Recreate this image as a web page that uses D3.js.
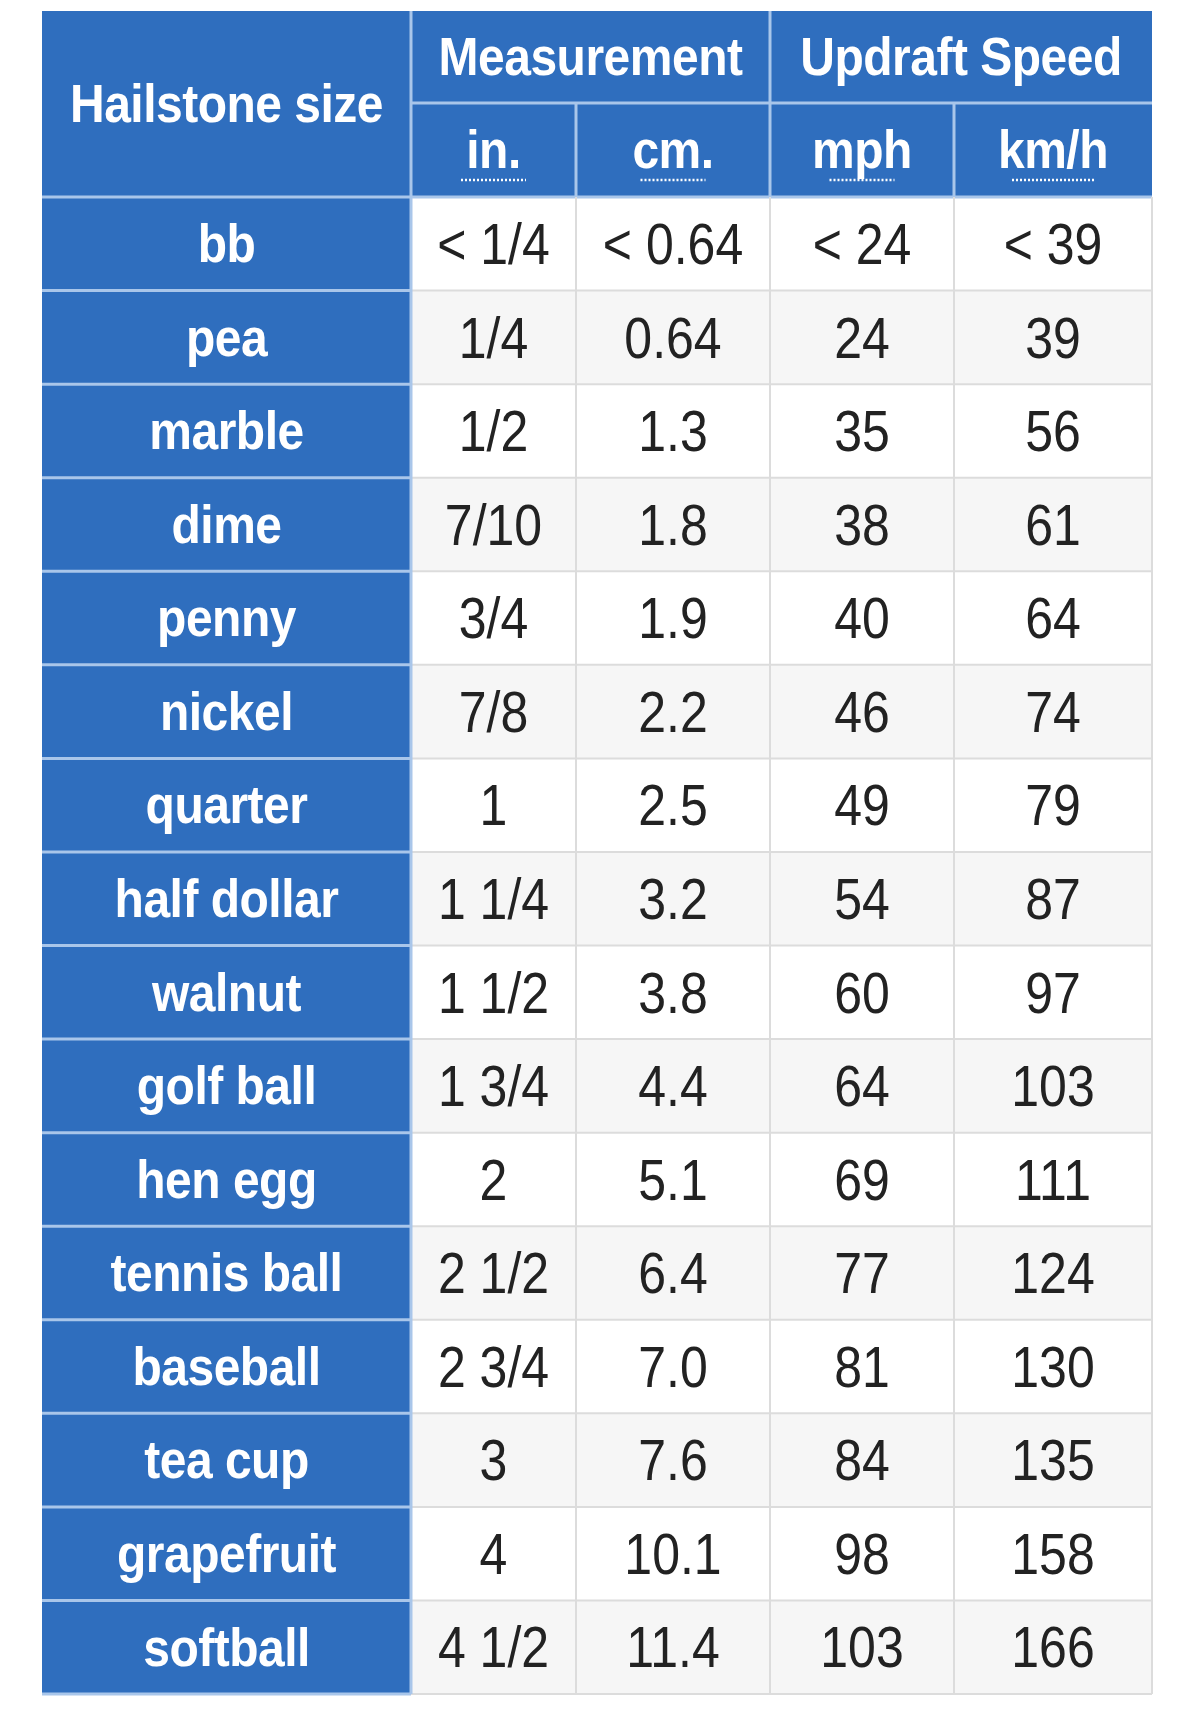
<!DOCTYPE html>
<html>
<head>
<meta charset="UTF-8">
<script src="https://d3js.org/d3.v7.min.js"></script>
<style>body{margin:0;background:#fff}</style>
</head>
<body>
<svg width="1200" height="1736"></svg>
<script>
const sizes = ["bb","pea","marble","dime","penny","nickel","quarter","half dollar","walnut","golf ball","hen egg","tennis ball","baseball","tea cup","grapefruit","softball"];
const inches = ["< 1/4","1/4","1/2","7/10","3/4","7/8","1","1 1/4","1 1/2","1 3/4","2","2 1/2","2 3/4","3","4","4 1/2"];
const cms = ["< 0.64","0.64","1.3","1.8","1.9","2.2","2.5","3.2","3.8","4.4","5.1","6.4","7.0","7.6","10.1","11.4"];
const mph = ["< 24","24","35","38","40","46","49","54","60","64","69","77","81","84","98","103"];
const kmh = ["< 39","39","56","61","64","74","79","87","97","103","111","124","130","135","158","166"];
const groups = ["Measurement","Updraft Speed"];
const units = ["in.","cm.","mph","km/h"];

const svg = d3.select("svg");
const blue = "#2f6ebe", grid = "#dcdcdc";
const font = "'Liberation Sans', Arial, sans-serif";
const colEdges = [42, 411, 576, 770, 954, 1152];
const tableTop = 11, h1 = 103, h2 = 197, tableBottom = 1694;
const cols = [inches, cms, mph, kmh];

const y = d3.scaleBand().domain(d3.range(sizes.length)).range([h2, tableBottom]);

function label(x, yy, t, opt) {
  const g = svg.append("g").attr("transform", `translate(${x},${yy}) scale(1,${opt.sy || 1.1})`);
  g.append("text").attr("text-anchor", "middle").attr("dominant-baseline", "central")
    .attr("font-family", font).attr("font-size", opt.size).attr("font-weight", opt.bold ? "bold" : "normal")
    .attr("letter-spacing", opt.ls || 0).attr("fill", opt.fill).text(t);
  return g;
}

// header background
svg.append("rect").attr("x", colEdges[0]).attr("y", tableTop).attr("width", colEdges[5] - colEdges[0]).attr("height", h2 - tableTop).attr("fill", blue);
label((colEdges[0] + colEdges[1]) / 2, (tableTop + h2) / 2, "Hailstone size", {size: 48, bold: true, fill: "#fff", ls: -0.5});
groups.forEach((g, i) => {
  label((colEdges[1 + 2 * i] + colEdges[3 + 2 * i]) / 2, (tableTop + h1) / 2, g, {size: 48, bold: true, fill: "#fff", ls: -0.5});
});
units.forEach((u, i) => {
  const cx = (colEdges[i + 1] + colEdges[i + 2]) / 2, cy = (h1 + h2) / 2;
  label(cx, cy, u, {size: 48, bold: true, fill: "#fff", ls: -0.5});
  const w = u.length * 17 + 14;
  svg.append("line").attr("x1", cx - w / 2).attr("x2", cx + w / 2).attr("y1", cy + 30).attr("y2", cy + 30)
    .attr("stroke", "#fff").attr("stroke-width", 2.5).attr("stroke-dasharray", "2,2");
});

// rows
sizes.forEach((s, r) => {
  const y0 = y(r), bh = y.bandwidth();
  svg.append("rect").attr("x", colEdges[0]).attr("y", y0).attr("width", colEdges[1] - colEdges[0]).attr("height", bh).attr("fill", blue);
  svg.append("rect").attr("x", colEdges[1]).attr("y", y0).attr("width", colEdges[5] - colEdges[1]).attr("height", bh)
    .attr("fill", r % 2 ? "#f6f6f6" : "#ffffff");
  label((colEdges[0] + colEdges[1]) / 2, y0 + bh / 2, s, {size: 48, bold: true, fill: "#fff", ls: -0.5});
  cols.forEach((c, i) => {
    label((colEdges[i + 1] + colEdges[i + 2]) / 2, y0 + bh / 2, c[r], {size: 50, fill: "#222", sy: 1.15});
  });
});

// grid lines
const lineY = [h2].concat(d3.range(sizes.length).map(r => y(r) + y.bandwidth()));
lineY.forEach((yy, i) => {
  svg.append("line").attr("x1", colEdges[0]).attr("x2", colEdges[1]).attr("y1", yy).attr("y2", yy).attr("stroke", "#a9c6ea").attr("stroke-width", 3);
  svg.append("line").attr("x1", colEdges[1]).attr("x2", colEdges[5]).attr("y1", yy).attr("y2", yy).attr("stroke", i === 0 ? "#a9c6ea" : grid).attr("stroke-width", i === 0 ? 3 : 2);
});
svg.append("line").attr("x1", colEdges[1]).attr("x2", colEdges[5]).attr("y1", h1).attr("y2", h1).attr("stroke", "#a9c6ea").attr("stroke-width", 3);
colEdges.forEach((x, i) => {
  if (i === 0 || i === 5) return;
  const y1 = (i === 2 || i === 4) ? h1 : tableTop;
  svg.append("line").attr("x1", x).attr("x2", x).attr("y1", y1).attr("y2", h2).attr("stroke", "#a9c6ea").attr("stroke-width", 3);
  svg.append("line").attr("x1", x).attr("x2", x).attr("y1", h2).attr("y2", tableBottom).attr("stroke", i === 1 ? "#a9c6ea" : grid).attr("stroke-width", i === 1 ? 3 : 2);
});
svg.append("line").attr("x1", colEdges[5]).attr("x2", colEdges[5]).attr("y1", h2).attr("y2", tableBottom).attr("stroke", grid).attr("stroke-width", 2);
</script>
</body>
</html>
